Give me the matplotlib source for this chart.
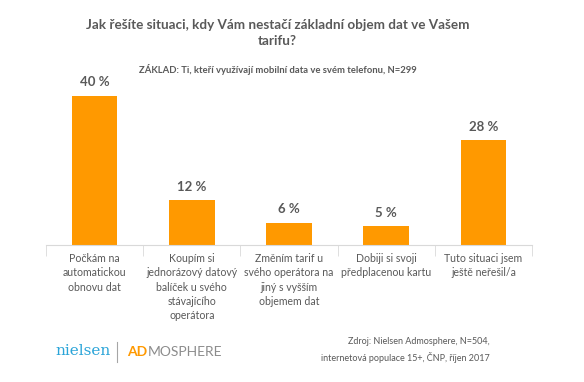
import matplotlib.pyplot as plt

# -------------- data --------------
categories = [
    "Počkám na\nautomatickou\nobnovu dat",
    "Koupím si\njednorázový datový\nbalíček u svého\nstávajícího\noperátora",
    "Změním tarif u\nsvého operátora na\njiný s vyšším\nobjemem dat",
    "Dobiji si svoji\npředplacenou kartu",
    "Tuto situaci jsem\nještě neřešil/a",
]
values = [40, 12, 6, 5, 28]
labels = ["40 %", "12 %", "6 %", "5 %", "28 %"]

title = "Jak řešíte situaci, kdy Vám nestačí základní objem dat ve Vašem\ntarifu?"
subtitle = "ZÁKLAD: Ti, kteří využívají mobilní data ve svém telefonu, N=299"
source = "Zdroj: Nielsen Admosphere, N=504,\ninternetová populace 15+, ČNP, říjen 2017"

plt.rcParams['font.family'] = ['Lato', 'DejaVu Sans']
gray = '#595959'
orange = '#FF9900'

fig = plt.figure(figsize=(5.84, 3.82), dpi=100)
ax = fig.add_axes([46 / 584, 137 / 382, 486 / 584, 168 / 382])

x = range(len(values))
ax.bar(x, values, width=0.47, color=orange)
for i, v in enumerate(values):
    ax.text(i, v + 2, labels[i], ha='center', va='bottom', fontsize=9.5,
            fontweight='bold', color=gray)

ax.set_xlim(-0.5, len(values) - 0.5)
ax.set_ylim(0, 45)
for s in ['top', 'right', 'left']:
    ax.spines[s].set_visible(False)
ax.spines['bottom'].set_color('#d9d9d9')
ax.set_yticks([])
ax.set_xticks(list(x))
ax.set_xticklabels(categories, fontsize=7.6, color=gray, linespacing=1.35)
ax.tick_params(axis='x', which='major', length=0, pad=6)
ax.set_xticks([i - 0.5 for i in range(len(values) + 1)], minor=True)
ax.tick_params(axis='x', which='minor', length=8, color='#d9d9d9')

fig.text(0.475, 0.95, title, ha='center', va='top', fontsize=9.7,
         fontweight='bold', color=gray, linespacing=1.4)
fig.text(0.475, 0.817, subtitle, ha='center', va='center', fontsize=6.8,
         fontweight='bold', color=gray)

# logos as text
fig.text(55 / 584, 1 - 351 / 382, "nielsen", ha='left', va='center',
         fontsize=11, color='#2aa4d8', family='DejaVu Serif')
fig.add_artist(plt.Line2D([117 / 584, 117 / 584], [1 - 342 / 382, 1 - 362 / 382],
                          color='#a6a6a6', lw=0.8))
fig.text(127 / 584, 1 - 352 / 382, "AD", ha='left', va='center', fontsize=10,
         fontweight='bold', color=orange)
fig.text(148 / 584, 1 - 352 / 382, "MOSPHERE", ha='left', va='center',
         fontsize=10, color='#8c8c8c')

fig.text(490 / 584, 1 - 350 / 382, source, ha='right', va='center',
         fontsize=6.5, color=gray, linespacing=1.6)

fig.savefig('out.png', dpi=100)
